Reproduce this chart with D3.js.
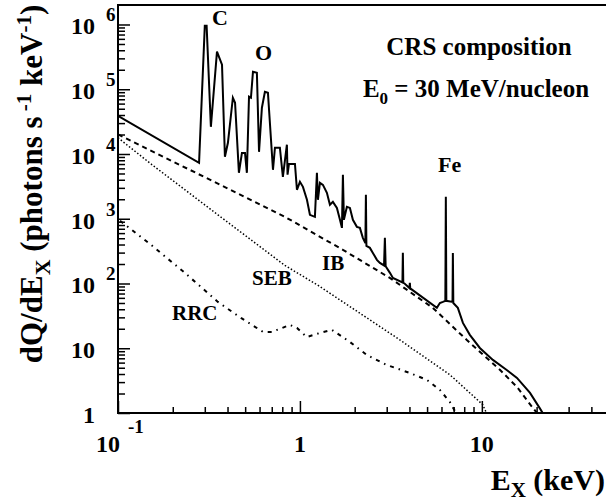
<!DOCTYPE html>
<html>
<head>
<meta charset="utf-8">
<script src="https://cdn.jsdelivr.net/npm/d3@7"></script>
<style>
  body { margin: 0; background: #fff; }
  text { font-family: "Liberation Serif", "DejaVu Serif", serif; font-weight: bold; fill: #000; }
</style>
</head>
<body>
<div id="chart"></div>
<script>
// Total spectrum (solid line)
var totalE = [0.1, 0.279, 0.300, 0.307, 0.324, 0.350, 0.373, 0.387, 0.402, 0.428, 0.440, 0.462, 0.480, 0.499, 0.511,
  0.525, 0.538, 0.552, 0.580, 0.596, 0.618, 0.642, 0.667, 0.711, 0.729, 0.776, 0.806, 0.848, 0.855, 0.870, 0.939,
  0.963, 1.0, 1.039, 1.093, 1.135, 1.209, 1.240, 1.256, 1.288, 1.338, 1.407, 1.462, 1.518, 1.597, 1.660, 1.702,
  1.723, 1.745, 1.812, 1.883, 1.955, 2.056, 2.136, 2.218, 2.29, 2.305, 2.32, 2.425, 2.518, 2.649, 2.752, 2.90,
  2.931, 2.96, 3.124, 3.245, 3.66, 3.68, 3.70, 4.00, 4.02, 4.04, 5.66, 5.88, 6.11, 6.30, 6.34, 6.38, 6.90, 6.93,
  6.97, 7.38, 7.87, 8.59, 9.75, 11.5, 13.7, 15.6, 18.4, 20.8, 21.6];
var totalQ = [38900, 7310, 958000, 958000, 26300, 380000, 239000, 9060, 14900, 73900, 61800, 5120, 10400, 10400, 5120,
  76600, 73900, 186000, 180000, 10800, 51800, 91500, 88300, 5700, 12500, 12500, 4440, 13900, 4800, 7000, 7000,
  2800, 3720, 3110, 1960, 1150, 1070, 5120, 1960, 3590, 3340, 2510, 1640, 1820, 1470, 962, 723,
  4770, 962, 1530, 1470, 962, 750, 723, 507, 420, 2340, 380, 355, 297, 232, 208, 190,
  507, 185, 146, 122, 104, 297, 104, 85, 102, 84, 42, 50, 52, 54, 2180, 54, 52, 297,
  50, 42, 24.6, 16.1, 10.1, 6.6, 4.62, 3.48, 2.04, 1.19, 1];

// Inner bremsstrahlung (dashed)
var ibE = [0.1, 0.275, 0.827, 1.723, 3.12, 5.38, 8.27, 12.6, 15.6, 19.1, 20.1];
var ibQ = [20000, 4940, 1070, 331, 122, 42, 13.4, 4.62, 2.52, 1.19, 1];

// Secondary electron bremsstrahlung (dotted)
var sebE = [0.1, 0.152, 0.354, 0.827, 1.27, 3.54, 6.67, 10.1, 10.6];
var sebQ = [17800, 7000, 1150, 190, 92, 13.5, 3.9, 1.35, 1];

// Radiative recombination continuum (dash-dot)
var rrcE = [0.1026, 0.152, 0.233, 0.354, 0.474, 0.626, 0.702, 0.881, 0.963, 1.09, 1.288, 1.499, 1.883, 2.33,
  3.0, 4.02, 4.99, 5.88, 6.67, 7.2];
var rrcQ = [929, 395, 146, 52, 29.4, 17.9, 17.9, 22.9, 20.6, 14.9, 17.2, 19.2, 12.5, 7.88, 5.52, 4.15, 3.24,
  2.27, 1.48, 1];

// Axis ticks and labels
var yMajor = [1, 10, 100, 1e3, 1e4, 1e5, 1e6];
var yExp = ["", "", "2", "3", "4", "5", "6"];
var yBase = ["1", "10", "10", "10", "10", "10", "10"];
var xMajor = [0.1, 1, 10];
var xBase = ["10", "1", "10"];
var xExp = ["-1", "", ""];

var width = 606, height = 503;
var svg = d3.select("#chart").append("svg")
    .attr("width", width)
    .attr("height", height);

var x = d3.scaleLog().domain([0.1, 50]).range([118, 609]);
var y = d3.scaleLog().domain([1, 2e6]).range([413, 5]);

svg.append("clipPath").attr("id", "clip")
  .append("rect").attr("x", 118).attr("y", 5).attr("width", 491).attr("height", 408);

// minor tick values
var yMinor = [];
for (var d = 0; d < 6; d++) for (var k = 2; k <= 9; k++) yMinor.push(k * Math.pow(10, d));
var xMinor = [];
for (var d = -1; d < 2; d++) for (var k = 2; k <= 9; k++) {
  var v = k * Math.pow(10, d);
  if (v < 50) xMinor.push(v);
}

function tickAxis(axis, tr) {
  var g = svg.append("g").attr("transform", tr).call(axis);
  g.select(".domain").remove();
  g.selectAll("line").attr("stroke", "#000").attr("stroke-width", 1.5);
  g.selectAll("text").remove();
}
tickAxis(d3.axisLeft(y).tickValues(yMinor).tickSize(-7), "translate(118,0)");
tickAxis(d3.axisLeft(y).tickValues(yMajor).tickSize(-12), "translate(118,0)");
tickAxis(d3.axisBottom(x).tickValues(xMinor).tickSize(-6), "translate(0,413)");
tickAxis(d3.axisBottom(x).tickValues(xMajor).tickSize(-12), "translate(0,413)");

// frame
svg.append("path")
  .attr("d", "M609,5H118V413H609")
  .attr("fill", "none").attr("stroke", "#000").attr("stroke-width", 2);

// curves
var line = d3.line().x(d => x(d[0])).y(d => y(d[1]));
var plot = svg.append("g").attr("clip-path", "url(#clip)");
function curve(E, Q, dash, w) {
  plot.append("path")
    .datum(d3.zip(E, Q))
    .attr("d", line)
    .attr("fill", "none")
    .attr("stroke", "#000")
    .attr("stroke-width", w)
    .attr("stroke-linejoin", "miter")
    .attr("stroke-dasharray", dash);
}
curve(rrcE, rrcQ, "4,5,1.5,5", 2);
curve(sebE, sebQ, "1.5,2", 1.5);
curve(ibE, ibQ, "5,4", 2);
curve(totalE, totalQ, null, 2);

// y tick labels
yMajor.forEach(function(v, i) {
  svg.append("text")
    .attr("x", 95).attr("y", y(v) + 10)
    .attr("text-anchor", "end")
    .style("font-size", "24px")
    .text(yBase[i]);
  if (yExp[i]) {
    svg.append("text")
      .attr("x", 106).attr("y", y(v) - 3)
      .style("font-size", "19px")
      .text(yExp[i]);
  }
});

// x tick labels
xMajor.forEach(function(v, i) {
  var cx = x(v) + (xExp[i] ? -10 : 0);
  svg.append("text")
    .attr("x", cx).attr("y", 452)
    .attr("text-anchor", "middle")
    .style("font-size", "24px")
    .text(xBase[i]);
  if (xExp[i]) {
    svg.append("text")
      .attr("x", cx + 20).attr("y", 433)
      .style("font-size", "19px")
      .text(xExp[i]);
  }
});

// x axis title
var xt = svg.append("text")
  .attr("x", 605).attr("y", 490)
  .attr("text-anchor", "end")
  .style("font-size", "30px");
xt.append("tspan").text("E");
xt.append("tspan").attr("dy", 7).style("font-size", "21px").text("X");
xt.append("tspan").attr("dy", -7).text(" (keV)");

// y axis title
var yt = svg.append("text")
  .attr("transform", "translate(42,184) rotate(-90)")
  .attr("text-anchor", "middle")
  .style("font-size", "31px");
yt.append("tspan").text("dQ/dE");
yt.append("tspan").attr("dy", 8).style("font-size", "22px").text("X");
yt.append("tspan").attr("dy", -8).text(" (photons s");
yt.append("tspan").attr("dy", -11).style("font-size", "21px").text(" -1");
yt.append("tspan").attr("dy", 11).text(" keV");
yt.append("tspan").attr("dy", -11).style("font-size", "21px").text("-1");
yt.append("tspan").attr("dy", 11).text(")");

// annotations
function note(tx, ty, s, size) {
  return svg.append("text").attr("x", tx).attr("y", ty)
    .style("font-size", size + "px").text(s);
}
note(212, 25, "C", 22);
note(255, 60, "O", 22);
note(438, 172, "Fe", 22);
note(322, 270, "IB", 21);
note(252, 285, "SEB", 21);
note(172, 320, "RRC", 21);
svg.append("text").attr("x", 479).attr("y", 55).attr("text-anchor", "middle")
  .style("font-size", "25px").text("CRS composition");
var e0 = svg.append("text").attr("x", 476).attr("y", 97).attr("text-anchor", "middle")
  .style("font-size", "25px");
e0.append("tspan").text("E");
e0.append("tspan").attr("dy", 7).style("font-size", "17px").text("0");
e0.append("tspan").attr("dy", -7).text(" = 30 MeV/nucleon");
</script>
</body>
</html>
